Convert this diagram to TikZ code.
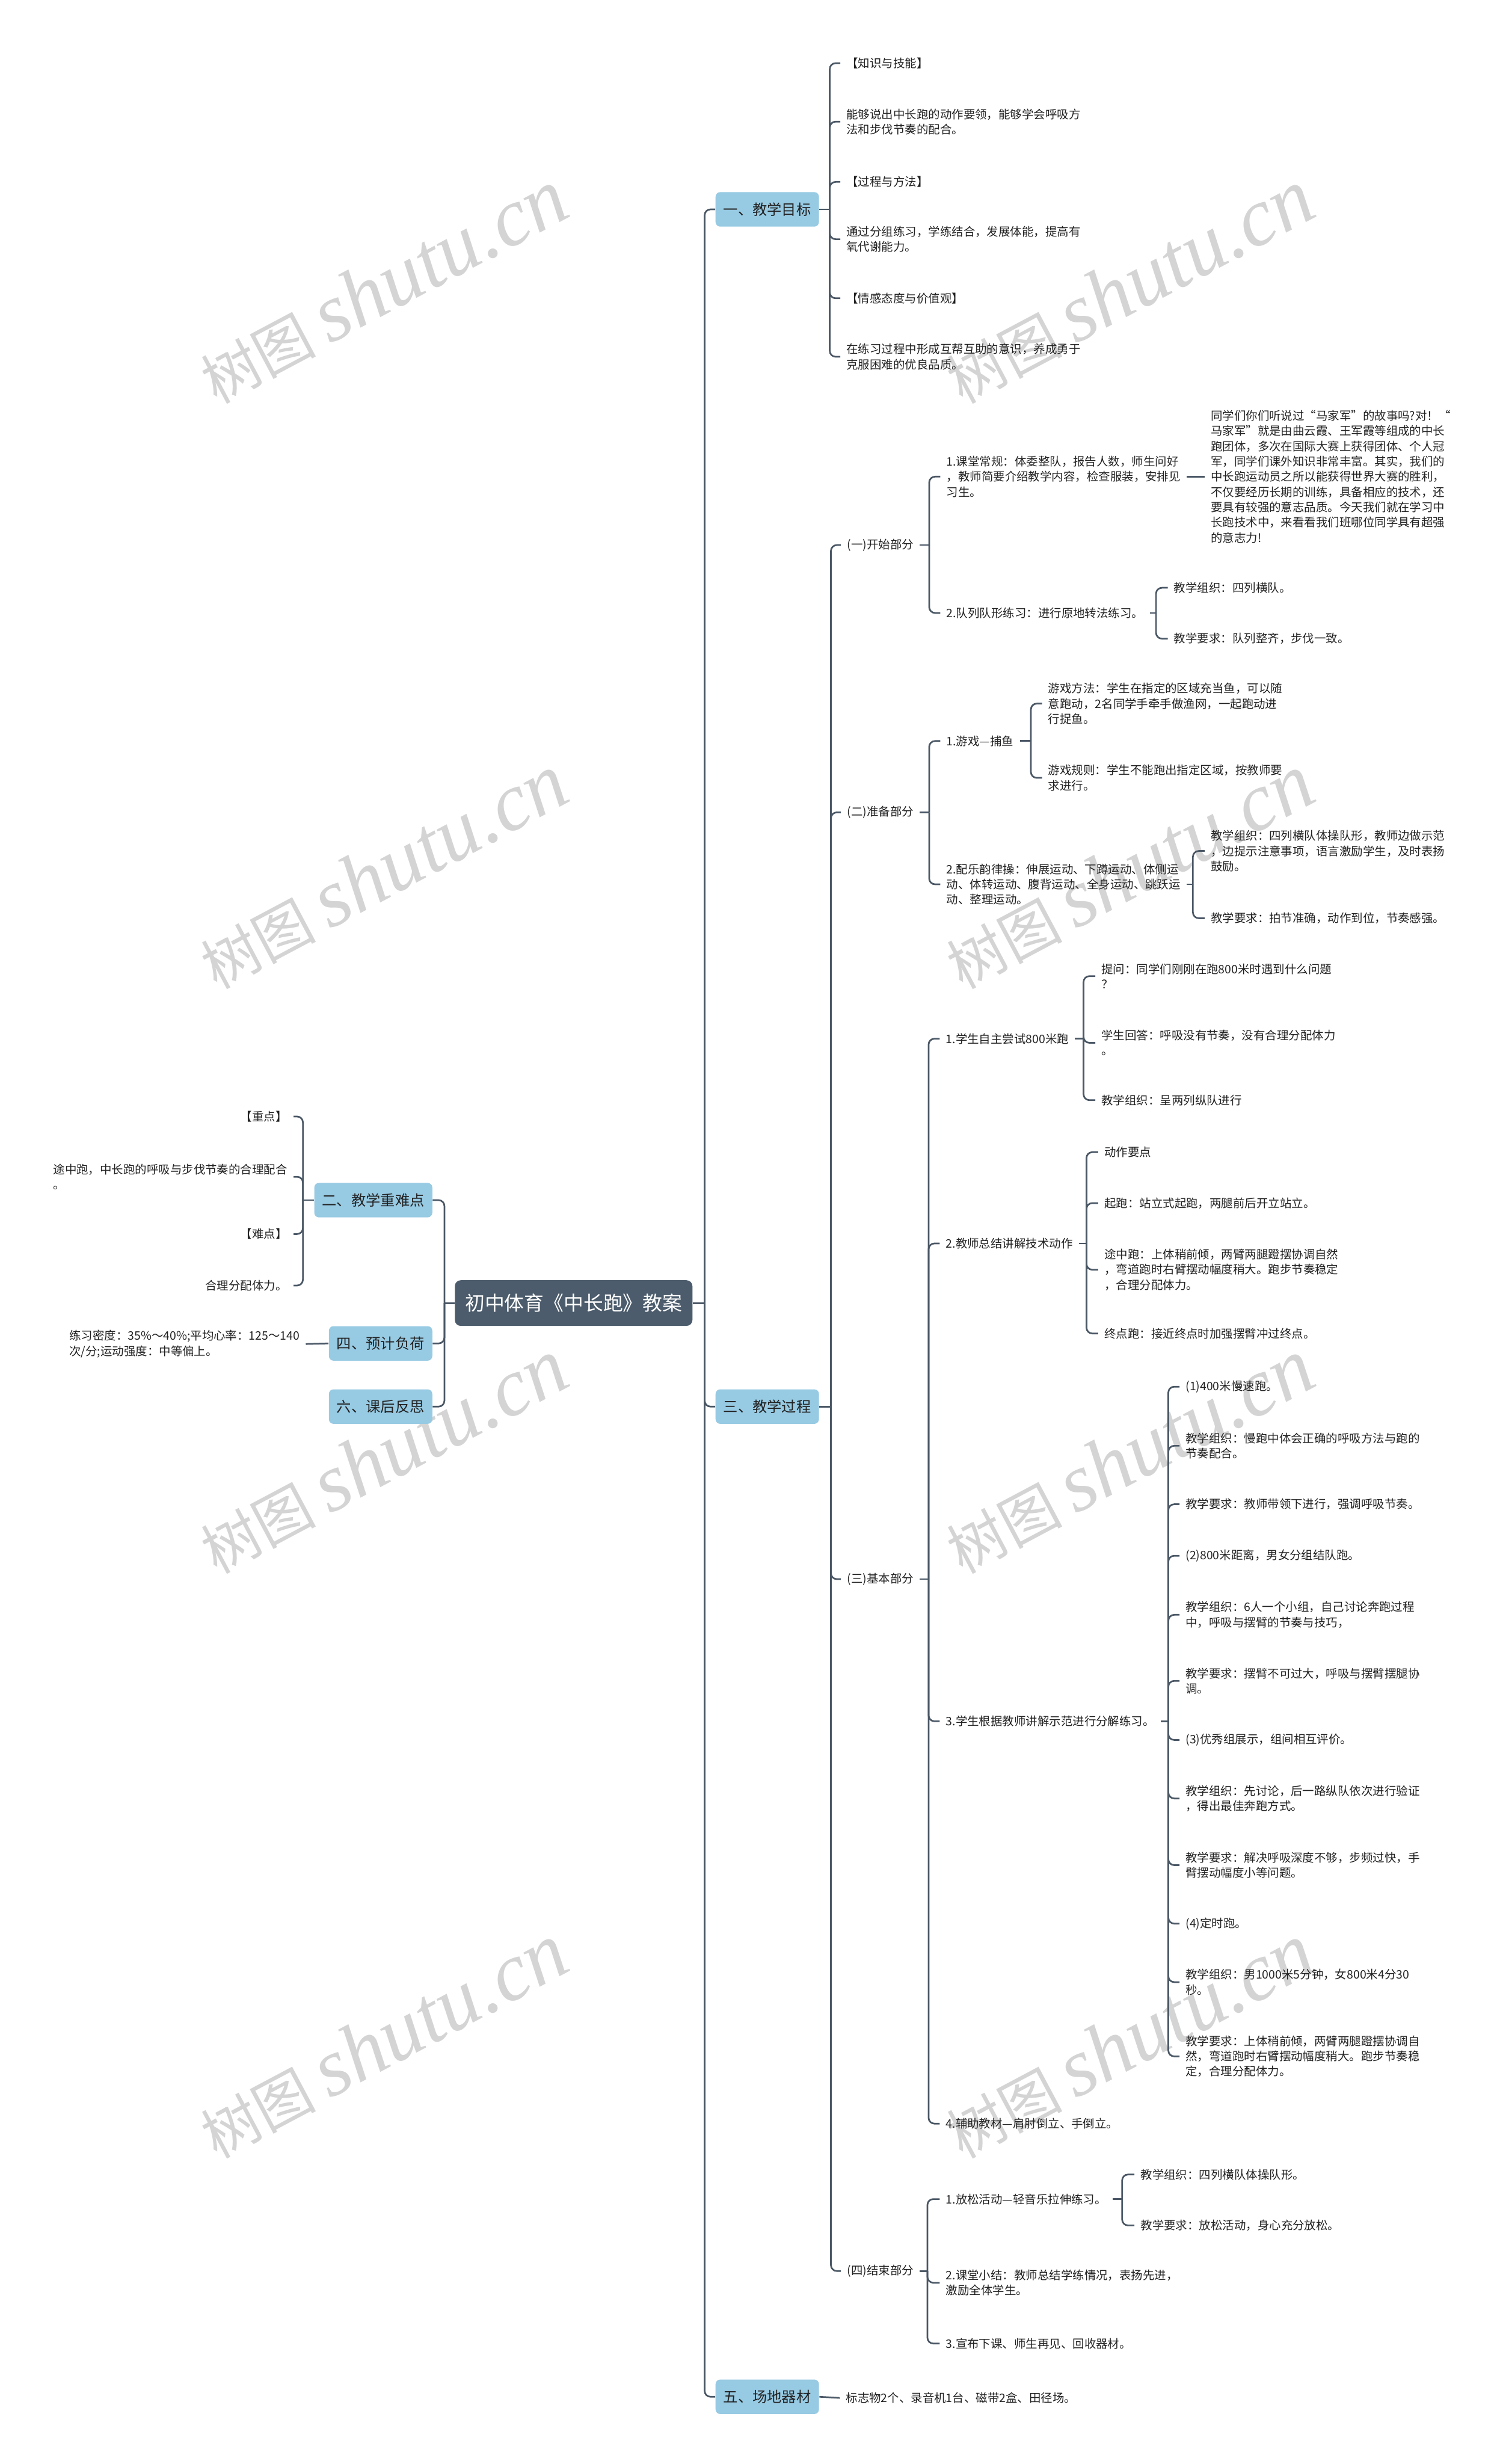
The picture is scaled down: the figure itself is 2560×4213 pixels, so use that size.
\documentclass[tikz,border=0pt]{standalone}
\usepackage{fontspec}
\setmainfont{Noto Sans CJK SC}
\newfontfamily\wmlatin{Liberation Serif}
\usepackage{tikz}

\definecolor{linecol}{RGB}{74,87,101}
\definecolor{rootcol}{RGB}{76,92,108}
\definecolor{headcol}{RGB}{151,202,227}
\definecolor{txtcol}{RGB}{34,34,34}

\newcommand\fsleaf{\fontsize{5.69pt}{7.4pt}\selectfont}
\newcommand\fshead{\fontsize{7.1pt}{8.5pt}\selectfont}
\newcommand\fsroot{\fontsize{9.6pt}{11pt}\selectfont}

\begin{document}
\begin{tikzpicture}[
            x = 0.01cm, y = -0.01cm,
            link/.style = {draw=linecol, line width=0.8pt, rounded corners=0.1cm},
            rootbox/.style = {rectangle, fill=rootcol, text=white, rounded corners=0.1cm, minimum width=4.06cm, minimum height=0.78cm, inner sep=0pt, font=\fsroot},
            headbox/.style = {rectangle, fill=headcol, text=txtcol, rounded corners=0.08cm, minimum height=0.59cm, inner xsep=0.135cm, inner ysep=0pt, font=\fshead},
            leaf/.style = {anchor=west, align=left, inner xsep=0.1cm, inner ysep=0pt, font=\fsleaf, text=txtcol},
            leafl/.style = {leaf, anchor=east},
            wmark/.style = {rotate=28, text=black!17, inner sep=0pt}
        ]
        \path[use as bounding box, fill=white] (0,0) rectangle (2560,4213);

        % 水印
        \foreach \wx in {655,1931} {
            \foreach \wy in {490,1490,2490,3490} {
                \node[wmark] (wm\wx\wy) at (\wx,\wy) {\fontsize{28pt}{28pt}\selectfont 树图 {\wmlatin\itshape\fontsize{40pt}{40pt}\selectfont shutu.cn}};
            }
        }

        % 中心主题
        \node[rootbox] (plan) at (981,2228) {初中体育《中长跑》教案};

        % 一级分支
        \node[headbox, anchor=west] (goal) at (1223,358) {一、教学目标};
        \node[headbox, anchor=west] (proc) at (1223,2405) {三、教学过程};
        \node[headbox, anchor=west] (site) at (1223,4098) {五、场地器材};
        \node[headbox, anchor=east] (keyp) at (740,2052) {二、教学重难点};
        \node[headbox, anchor=east] (load) at (740,2297) {四、预计负荷};
        \node[headbox, anchor=east] (refl) at (740,2405) {六、课后反思};

        \coordinate (rj) at (1205,2228);
        \coordinate (lj) at (760,2228);
        \draw[link] (plan.east) -- (rj);
        \draw[link] (plan.west) -- (lj);
        \foreach \c in {goal,proc,site} \draw[link] (rj) |- (\c.west);
        \foreach \c in {keyp,load,refl} \draw[link] (lj) |- (\c.east);

        % 一、教学目标
        \node[leaf] (goal1) at (1437,108) {【知识与技能】};
        \node[leaf] (goal2) at (1437,208) {能够说出中长跑的动作要领，能够学会呼吸方\\法和步伐节奏的配合。};
        \node[leaf] (goal3) at (1437,311) {【过程与方法】};
        \node[leaf] (goal4) at (1437,409) {通过分组练习，学练结合，发展体能，提高有\\氧代谢能力。};
        \node[leaf] (goal5) at (1437,510) {【情感态度与价值观】};
        \node[leaf] (goal6) at (1437,610) {在练习过程中形成互帮互助的意识，养成勇于\\克服困难的优良品质。};
        \coordinate (goalj) at (1419,358);
        \draw[link] (goal.east) -- (goalj);
        \foreach \c in {goal1,goal2,goal3,goal4,goal5,goal6} \draw[link] (goalj) |- (\c.west);

        % 二、教学重难点
        \node[leafl] (keyp1) at (502,1909) {【重点】};
        \node[leafl] (keyp2) at (502,2012) {途中跑，中长跑的呼吸与步伐节奏的合理配合\\。};
        \node[leafl] (keyp3) at (502,2110) {【难点】};
        \node[leafl] (keyp4) at (502,2198) {合理分配体力。};
        \coordinate (keypj) at (518,2052);
        \draw[link] (keyp.west) -- (keypj);
        \foreach \c in {keyp1,keyp2,keyp3,keyp4} \draw[link] (keypj) |- (\c.east);

        % 四、预计负荷
        \node[leafl] (load1) at (523,2298) {练习密度：35\%～40\%;平均心率：125～140\\次/分;运动强度：中等偏上。};
        \draw[link] (load.west) -- (load1.east);

        % 三、教学过程
        \node[leaf] (part1) at (1438,932) {(一)开始部分};
        \node[leaf] (part2) at (1438,1389) {(二)准备部分};
        \node[leaf] (part3) at (1438,2700) {(三)基本部分};
        \node[leaf] (part4) at (1438,3883) {(四)结束部分};
        \coordinate (procj) at (1421,2405);
        \draw[link] (proc.east) -- (procj);
        \foreach \c in {part1,part2,part3,part4} \draw[link] (procj) |- (\c.west);

        % (一)开始部分
        \node[leaf] (open1) at (1608,815) {1.课堂常规：体委整队，报告人数，师生问好\\，教师简要介绍教学内容，检查服装，安排见\\习生。};
        \node[leaf] (open2) at (1608,1048) {2.队列队形练习：进行原地转法练习。};
        \coordinate (part1j) at (1589,932);
        \draw[link] (part1.east) -- (part1j);
        \foreach \c in {open1,open2} \draw[link] (part1j) |- (\c.west);

        \node[leaf] (story) at (2060,815) {同学们你们听说过“马家军”的故事吗?对！“\\马家军”就是由曲云霞、王军霞等组成的中长\\跑团体，多次在国际大赛上获得团体、个人冠\\军，同学们课外知识非常丰富。其实，我们的\\中长跑运动员之所以能获得世界大赛的胜利，\\不仅要经历长期的训练，具备相应的技术，还\\要具有较强的意志品质。今天我们就在学习中\\长跑技术中，来看看我们班哪位同学具有超强\\的意志力!};
        \draw[link] (open1.east) -- (story.west);

        \node[leaf] (drill1) at (1997,1005) {教学组织：四列横队。};
        \node[leaf] (drill2) at (1997,1092) {教学要求：队列整齐，步伐一致。};
        \coordinate (open2j) at (1977,1048);
        \draw[link] (open2.east) -- (open2j);
        \foreach \c in {drill1,drill2} \draw[link] (open2j) |- (\c.west);

        % (二)准备部分
        \node[leaf] (warm1) at (1608,1267) {1.游戏—捕鱼};
        \node[leaf] (warm2) at (1608,1512) {2.配乐韵律操：伸展运动、下蹲运动、体侧运\\动、体转运动、腹背运动、全身运动、跳跃运\\动、整理运动。};
        \coordinate (part2j) at (1589,1389);
        \draw[link] (part2.east) -- (part2j);
        \foreach \c in {warm1,warm2} \draw[link] (part2j) |- (\c.west);

        \node[leaf] (game1) at (1782,1203) {游戏方法：学生在指定的区域充当鱼，可以随\\意跑动，2名同学手牵手做渔网，一起跑动进\\行捉鱼。};
        \node[leaf] (game2) at (1782,1330) {游戏规则：学生不能跑出指定区域，按教师要\\求进行。};
        \coordinate (warm1j) at (1763,1267);
        \draw[link] (warm1.east) -- (warm1j);
        \foreach \c in {game1,game2} \draw[link] (warm1j) |- (\c.west);

        \node[leaf] (gym1) at (2060,1455) {教学组织：四列横队体操队形，教师边做示范\\，边提示注意事项，语言激励学生，及时表扬\\鼓励。};
        \node[leaf] (gym2) at (2060,1570) {教学要求：拍节准确，动作到位，节奏感强。};
        \coordinate (warm2j) at (2040,1512);
        \draw[link] (warm2.east) -- (warm2j);
        \foreach \c in {gym1,gym2} \draw[link] (warm2j) |- (\c.west);

        % (三)基本部分
        \node[leaf] (base1) at (1607,1776) {1.学生自主尝试800米跑};
        \node[leaf] (base2) at (1607,2126) {2.教师总结讲解技术动作};
        \node[leaf] (base3) at (1607,2943) {3.学生根据教师讲解示范进行分解练习。};
        \node[leaf] (base4) at (1607,3631) {4.辅助教材—肩肘倒立、手倒立。};
        \coordinate (part3j) at (1588,2700);
        \draw[link] (part3.east) -- (part3j);
        \foreach \c in {base1,base2,base3,base4} \draw[link] (part3j) |- (\c.west);

        \node[leaf] (try1) at (1873,1669) {提问：同学们刚刚在跑800米时遇到什么问题\\？};
        \node[leaf] (try2) at (1873,1783) {学生回答：呼吸没有节奏，没有合理分配体力\\。};
        \node[leaf] (try3) at (1873,1881) {教学组织：呈两列纵队进行};
        \coordinate (base1j) at (1853,1776);
        \draw[link] (base1.east) -- (base1j);
        \foreach \c in {try1,try2,try3} \draw[link] (base1j) |- (\c.west);

        \node[leaf] (tech1) at (1878,1970) {动作要点};
        \node[leaf] (tech2) at (1878,2057) {起跑：站立式起跑，两腿前后开立站立。};
        \node[leaf] (tech3) at (1878,2171) {途中跑：上体稍前倾，两臂两腿蹬摆协调自然\\，弯道跑时右臂摆动幅度稍大。跑步节奏稳定\\，合理分配体力。};
        \node[leaf] (tech4) at (1878,2280) {终点跑：接近终点时加强摆臂冲过终点。};
        \coordinate (base2j) at (1858,2126);
        \draw[link] (base2.east) -- (base2j);
        \foreach \c in {tech1,tech2,tech3,tech4} \draw[link] (base2j) |- (\c.west);

        \node[leaf] (step1) at (2017,2371) {(1)400米慢速跑。};
        \node[leaf] (step2) at (2017,2472) {教学组织：慢跑中体会正确的呼吸方法与跑的\\节奏配合。};
        \node[leaf] (step3) at (2017,2572) {教学要求：教师带领下进行，强调呼吸节奏。};
        \node[leaf] (step4) at (2017,2660) {(2)800米距离，男女分组结队跑。};
        \node[leaf] (step5) at (2017,2761) {教学组织：6人一个小组，自己讨论奔跑过程\\中，呼吸与摆臂的节奏与技巧，};
        \node[leaf] (step6) at (2017,2874) {教学要求：摆臂不可过大，呼吸与摆臂摆腿协\\调。};
        \node[leaf] (step7) at (2017,2975) {(3)优秀组展示，组间相互评价。};
        \node[leaf] (step8) at (2017,3075) {教学组织：先讨论，后一路纵队依次进行验证\\，得出最佳奔跑方式。};
        \node[leaf] (step9) at (2017,3189) {教学要求：解决呼吸深度不够，步频过快，手\\臂摆动幅度小等问题。};
        \node[leaf] (step10) at (2017,3289) {(4)定时跑。};
        \node[leaf] (step11) at (2017,3389) {教学组织：男1000米5分钟，女800米4分30\\秒。};
        \node[leaf] (step12) at (2017,3516) {教学要求：上体稍前倾，两臂两腿蹬摆协调自\\然，弯道跑时右臂摆动幅度稍大。跑步节奏稳\\定，合理分配体力。};
        \coordinate (base3j) at (1998,2943);
        \draw[link] (base3.east) -- (base3j);
        \foreach \c in {step1,step2,step3,step4,step5,step6,step7,step8,step9,step10,step11,step12} \draw[link] (base3j) |- (\c.west);

        % (四)结束部分
        \node[leaf] (end1) at (1607,3760) {1.放松活动—轻音乐拉伸练习。};
        \node[leaf] (end2) at (1607,3903) {2.课堂小结：教师总结学练情况，表扬先进，\\激励全体学生。};
        \node[leaf] (end3) at (1607,4007) {3.宣布下课、师生再见、回收器材。};
        \coordinate (part4j) at (1586,3883);
        \draw[link] (part4.east) -- (part4j);
        \foreach \c in {end1,end2,end3} \draw[link] (part4j) |- (\c.west);

        \node[leaf] (relax1) at (1940,3718) {教学组织：四列横队体操队形。};
        \node[leaf] (relax2) at (1940,3805) {教学要求：放松活动，身心充分放松。};
        \coordinate (end1j) at (1919,3760);
        \draw[link] (end1.east) -- (end1j);
        \foreach \c in {relax1,relax2} \draw[link] (end1j) |- (\c.west);

        % 五、场地器材
        \node[leaf] (site1) at (1436,4100) {标志物2个、录音机1台、磁带2盒、田径场。};
        \draw[link] (site.east) -- (site1.west);

    \end{tikzpicture}
\end{document}
